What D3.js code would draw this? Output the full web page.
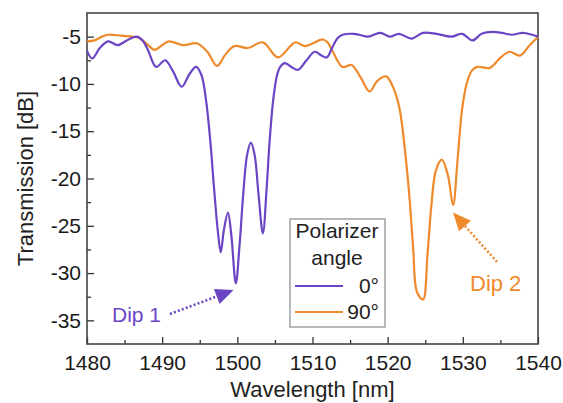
<!DOCTYPE html>
<html lang="en">
<head>
    <meta charset="UTF-8">
    <title>Transmission vs wavelength</title>
    <style>
        body { margin: 0; background: #fff; }
        svg text { font-family: Arial, "Liberation Sans", sans-serif; fill: #222; }
    </style>
</head>
<body>
    <script src="https://d3js.org/d3.v7.min.js"></script>
    <script>
        // Polarizer angle 0 deg
        const wl0 = [1480.0, 1480.7, 1481.7, 1482.8, 1484.1, 1485.3, 1486.6, 1487.4, 1488.1, 1489.2,
            1490.4, 1491.4, 1492.6, 1493.6, 1494.5, 1495.2, 1495.8, 1496.4, 1496.9, 1497.4,
            1497.8, 1498.2, 1498.75, 1499.2, 1499.8, 1500.3, 1500.8, 1501.3, 1501.8, 1502.3,
            1502.8, 1503.4, 1503.9, 1504.3, 1504.8, 1505.3, 1505.7, 1506.3, 1507.2, 1508.1,
            1509.2, 1510.3, 1511.2, 1511.9, 1512.6, 1513.3, 1514.0, 1515.5, 1516.2, 1517.4,
            1519.0, 1520.3, 1521.5, 1523.2, 1524.7, 1526.5, 1528.5, 1529.9, 1531.3, 1532.5,
            1534.0, 1535.2, 1536.5, 1538.0, 1539.2, 1540.0];
        const t0 = [-6.5, -7.3, -6.2, -5.5, -5.9, -5.4, -5.0, -5.4, -6.4, -8.2,
            -7.5, -8.6, -10.3, -9.0, -8.2, -9.0, -11.5, -16, -21, -25.5,
            -27.8, -25.5, -23.6, -26, -31.1, -27, -21.5, -17.5, -16.2, -17.5,
            -21.5, -25.8, -21, -16, -11.5, -9.0, -8.2, -7.8, -8.2, -8.5,
            -7.5, -6.6, -7.0, -7.2, -6.2, -5.2, -4.8, -4.7, -4.8, -5.0,
            -4.6, -5.0, -4.7, -5.2, -4.6, -4.7, -5.0, -4.7, -5.4, -4.7,
            -4.5, -4.6, -4.8, -4.6, -4.8, -5.0];

        // Polarizer angle 90 deg
        const wl90 = [1480.0, 1481.0, 1482.0, 1482.8, 1484.5, 1486.0, 1486.8, 1488.0, 1489.0, 1490.0,
            1490.9, 1492.8, 1494.6, 1496.0, 1497.3, 1498.4, 1499.6, 1501.4, 1503.4, 1505.4,
            1507.7, 1509.0, 1511.4, 1512.0, 1512.7, 1514.0, 1515.2, 1516.4, 1517.6, 1518.6,
            1519.8, 1520.8, 1521.6, 1522.3, 1522.9, 1523.4, 1523.9, 1524.7, 1525.3, 1525.8,
            1526.4, 1527.2, 1528.0, 1528.7, 1529.3, 1529.9, 1530.5, 1531.2, 1531.9, 1533.6,
            1534.9, 1536.2, 1537.6, 1538.8, 1540.0];
        const t90 = [-5.5, -5.4, -5.0, -4.8, -4.9, -5.0, -5.1, -5.8, -6.4, -5.9,
            -5.5, -5.9, -5.7, -6.6, -8.1, -6.9, -6.0, -6.2, -5.6, -7.2,
            -5.6, -6.0, -5.3, -5.6, -6.6, -8.2, -8.0, -9.3, -10.8, -9.7,
            -9.2, -10.5, -12.7, -17, -22, -27.5, -32.0, -32.8, -28, -23,
            -19.2, -18.0, -19.6, -22.8, -18, -12.7, -10, -8.6, -8.2, -8.3,
            -7.3, -6.6, -7.0, -6.0, -5.0];

        const xTicks = [1480, 1490, 1500, 1510, 1520, 1530, 1540];
        const xMinor = [1485, 1495, 1505, 1515, 1525, 1535];
        const yTicks = [-5, -10, -15, -20, -25, -30, -35];
        const yMinor = [-7.5, -12.5, -17.5, -22.5, -27.5, -32.5];
        const legendLabels = ["0°", "90°"];

        const width = 563, height = 403,
            margin = {top: 13, right: 25, bottom: 59, left: 87},
            purple = "#6a45c4",
            orange = "#ef8a2c";

        const svg = d3.select("body").append("svg")
            .attr("width", width)
            .attr("height", height);

        const x = d3.scaleLinear().domain([1480, 1540])
            .range([margin.left, width - margin.right]);
        const y = d3.scaleLinear().domain([-37.5, -2.5])
            .range([height - margin.bottom, margin.top]);

        // axes, ticks point inward
        svg.append("g")
            .attr("transform", "translate(0," + y.range()[0] + ")")
            .call(d3.axisBottom(x).tickValues(xTicks).tickSize(-7).tickPadding(11)
                .tickFormat(d => String(d)));
        svg.append("g")
            .attr("transform", "translate(0," + y.range()[0] + ")")
            .call(d3.axisBottom(x).tickValues(xMinor).tickSize(-4).tickFormat(""));
        svg.append("g")
            .attr("transform", "translate(" + x.range()[0] + ",0)")
            .call(d3.axisLeft(y).tickValues(yTicks).tickSize(-7).tickPadding(6)
                .tickFormat(d => String(d)));
        svg.append("g")
            .attr("transform", "translate(" + x.range()[0] + ",0)")
            .call(d3.axisLeft(y).tickValues(yMinor).tickSize(-4).tickFormat(""));

        svg.selectAll(".domain").remove();
        svg.selectAll(".tick line").attr("stroke", "#333").attr("stroke-width", 1.3);
        svg.selectAll(".tick text").attr("font-size", 21).style("fill", "#1a1a1a")
            .attr("font-family", "Arial, 'Liberation Sans', sans-serif");

        // frame
        svg.append("rect")
            .attr("x", x.range()[0]).attr("y", y.range()[1])
            .attr("width", x.range()[1] - x.range()[0])
            .attr("height", y.range()[0] - y.range()[1])
            .attr("fill", "none").attr("stroke", "#444").attr("stroke-width", 1.6);

        // curves
        const line = d3.line()
            .x(d => x(d[0]))
            .y(d => y(d[1]))
            .curve(d3.curveCatmullRom.alpha(0.5));

        const series = [
            {pts: d3.zip(wl90, t90), color: orange},
            {pts: d3.zip(wl0, t0), color: purple}
        ];
        svg.selectAll(".curve")
            .data(series)
            .enter()
            .append("path")
            .attr("class", "curve")
            .attr("d", d => line(d.pts))
            .attr("fill", "none")
            .attr("stroke", d => d.color)
            .attr("stroke-width", 2.2);

        // axis titles
        svg.append("text")
            .attr("x", (x.range()[0] + x.range()[1]) / 2)
            .attr("y", 397)
            .attr("text-anchor", "middle")
            .attr("font-size", 22)
            .text("Wavelength [nm]");
        svg.append("text")
            .attr("transform", "translate(33," + (y.range()[0] + y.range()[1]) / 2 + ") rotate(-90)")
            .attr("text-anchor", "middle")
            .attr("font-size", 22)
            .text("Transmission [dB]");

        // legend
        const lg = svg.append("g");
        lg.append("rect")
            .attr("x", 290).attr("y", 219).attr("width", 95).attr("height", 108)
            .attr("fill", "#fff").attr("stroke", "#888").attr("stroke-width", 1.2);
        lg.append("text").attr("x", 337).attr("y", 238).attr("text-anchor", "middle")
            .attr("font-size", 21).text("Polarizer");
        lg.append("text").attr("x", 337).attr("y", 265).attr("text-anchor", "middle")
            .attr("font-size", 21).text("angle");
        [purple, orange].forEach((c, i) => {
            const yy = 286 + i * 26;
            lg.append("line").attr("x1", 295).attr("x2", 343)
                .attr("y1", yy).attr("y2", yy)
                .attr("stroke", c).attr("stroke-width", 2);
            lg.append("text").attr("x", 379).attr("y", yy + 7)
                .attr("text-anchor", "end").attr("font-size", 21)
                .text(legendLabels[i]);
        });

        // dip annotations
        function arrow(x1, y1, x2, y2, color) {
            const ang = Math.atan2(y2 - y1, x2 - x1);
            const hl = 18, hw = 8;
            const bx = x2 - hl * Math.cos(ang), by = y2 - hl * Math.sin(ang);
            svg.append("line")
                .attr("x1", x1).attr("y1", y1).attr("x2", bx).attr("y2", by)
                .attr("stroke", color).attr("stroke-width", 2.6)
                .attr("stroke-dasharray", "2,2.2");
            const px = -Math.sin(ang) * hw, py = Math.cos(ang) * hw;
            svg.append("path")
                .attr("d", "M" + x2 + "," + y2 + "L" + (bx + px) + "," + (by + py) +
                    "L" + (bx - px) + "," + (by - py) + "Z")
                .attr("fill", color);
        }
        // the arrows point at the dips in the data
        arrow(170, 314, x(1499.5), y(-31.8), purple);
        arrow(497, 262, x(1528.7), y(-23.6), orange);

        svg.append("text").attr("x", 112).attr("y", 322)
            .attr("font-size", 21).style("fill", purple).text("Dip 1");
        svg.append("text").attr("x", 470).attr("y", 291)
            .attr("font-size", 22).style("fill", orange).text("Dip 2");
    </script>
</body>
</html>
